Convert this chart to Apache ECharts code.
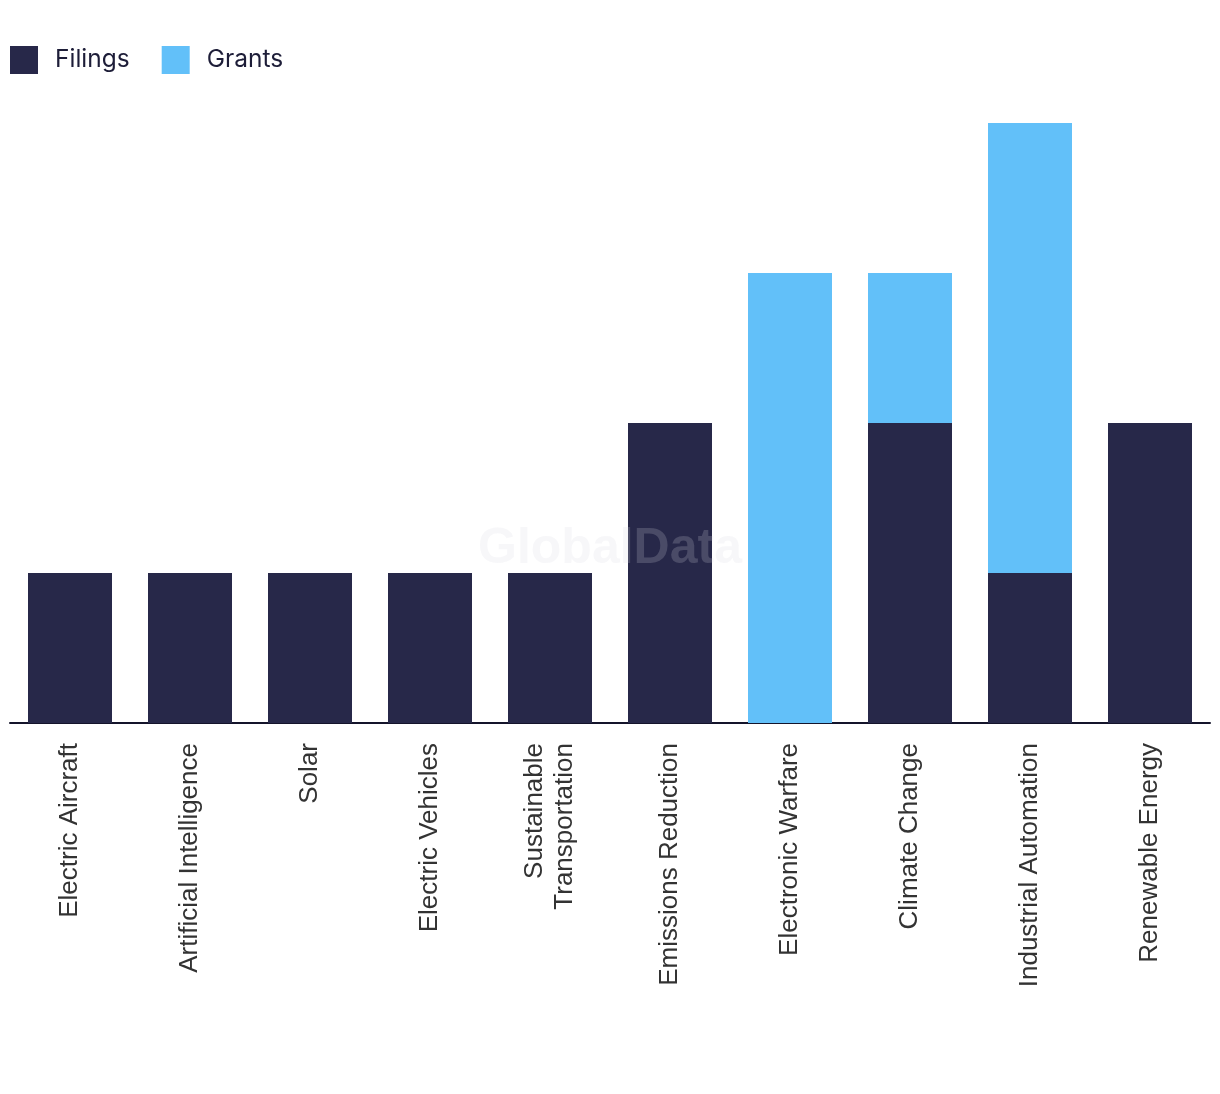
<!DOCTYPE html>
<html>
<head>
<meta charset="utf-8">
<style>html,body{margin:0;padding:0;background:#fff;}#chart{width:1220px;height:1094px;}</style>
<script src="https://cdn.jsdelivr.net/npm/echarts@6/dist/echarts.min.js"></script>
</head>
<body>
<div id="chart"></div>
<script>
const categories = ["Electric Aircraft","Artificial Intelligence","Solar","Electric Vehicles","Sustainable\nTransportation","Emissions Reduction","Electronic Warfare","Climate Change","Industrial Automation","Renewable Energy"];
const filings = [1,1,1,1,1,2,0,2,1,2];
const grants = [0,0,0,0,0,0,3,1,3,0];

const chart = echarts.init(document.getElementById('chart'));
chart.setOption({
  animation: false,
  legend: {
    left: 5, top: 41,
    itemWidth: 28, itemHeight: 28, itemGap: 32,
    icon: 'rect',
    textStyle: { fontFamily: 'Inter', fontSize: 24.5, color: '#1d1d38', padding: [0,0,0,12] },
    data: ['Filings','Grants']
  },
  grid: { left: 10, right: 10, top: 123, bottom: 371, containLabel: false },
  xAxis: {
    type: 'category', data: categories,
    axisLine: { lineStyle: { color: '#14142b', width: 2 } },
    axisTick: { show: false },
    axisLabel: { rotate: 90, interval: 0, margin: 20, fontFamily: 'Liberation Sans', fontSize: 26, color: '#333', lineHeight: 30 }
  },
  yAxis: { type: 'value', min: 0, max: 4, show: false, splitLine: { show: false } },
  series: [
    { name: 'Filings', type: 'bar', stack: 'a', data: filings, barWidth: '70%', itemStyle: { color: '#272849' } },
    { name: 'Grants', type: 'bar', stack: 'a', data: grants, barWidth: '70%', itemStyle: { color: '#62c0f9' } }
  ],
  graphic: [{
    type: 'text', left: 'center', top: 524, z: 100,
    style: { text: 'GlobalData', font: 'bold 50px "Liberation Sans"', fill: 'rgba(215,215,225,0.2)' }
  }]
});
</script>
</body>
</html>
